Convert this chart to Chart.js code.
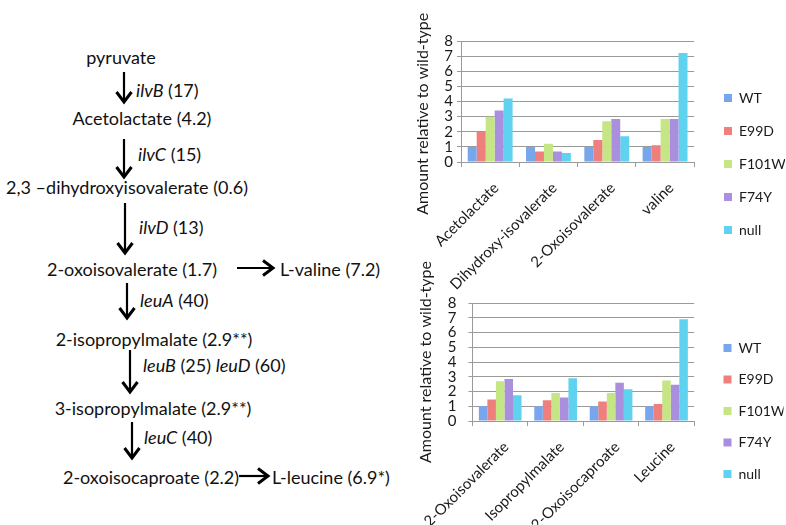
<!DOCTYPE html>
<html>
<head>
<meta charset="utf-8">
<script src="https://cdn.jsdelivr.net/npm/chart.js@4.4.1/dist/chart.umd.min.js"></script>
<style>
  body { margin: 0; background: #fff; }
  #wrap { position: relative; width: 786px; height: 525px; overflow: hidden; font-family: Lato, "Open Sans", sans-serif; color: #111; }
  .t { position: absolute; white-space: nowrap; font-size: 18px; line-height: 1; }
  .c { transform: translate(-50%, -50%); }
  .l { transform: translateY(-50%); }
  #arrows { position: absolute; left: 0; top: 0; }
  #topBox { position: absolute; left: 400px; top: 0; width: 386px; height: 300px; }
  #botBox { position: absolute; left: 400px; top: 250px; width: 386px; height: 275px; }
</style>
</head>
<body>
<div id="wrap">
  <svg id="arrows" width="400" height="525"></svg>
  <div id="pathway"></div>
  <div id="topBox"><canvas id="topChart"></canvas></div>
  <div id="botBox"><canvas id="botChart"></canvas></div>
</div>
<script>
// chart data
const seriesNames = ['WT', 'E99D', 'F101W', 'F74Y', 'null'];
const seriesColors = ['#78a6ec', '#ef7f7c', '#c6e585', '#a98fde', '#5fd2ef'];

const topCategories = ['Acetolactate', 'Dihydroxy-isovalerate', '2-Oxoisovalerate', 'valine'];
const topWT = [1.0, 1.0, 1.0, 1.0];
const topE99D = [2.0, 0.7, 1.45, 1.1];
const topF101W = [3.0, 1.2, 2.7, 2.85];
const topF74Y = [3.4, 0.7, 2.85, 2.85];
const topNull = [4.2, 0.6, 1.7, 7.2];

const botCategories = ['2-Oxoisovalerate', 'Isopropylmalate', '2-Oxoisocaproate', 'Leucine'];
const botWT = [1.0, 1.0, 1.0, 1.0];
const botE99D = [1.45, 1.4, 1.33, 1.15];
const botF101W = [2.7, 1.9, 1.9, 2.75];
const botF74Y = [2.85, 1.6, 2.6, 2.45];
const botNull = [1.75, 2.9, 2.15, 6.9];

const yTicks = [0, 1, 2, 3, 4, 5, 6, 7, 8];
const yTitle = 'Amount relative to wild-type';

// pathway diagram: [text, x, y, anchor]
const pathwayLabels = [
    ['pyruvate', 121, 57, 'c'],
    ['<i>ilvB</i> (17)', 136, 90, 'l'],
    ['Acetolactate (4.2)', 142, 118, 'c'],
    ['<i>ilvC</i> (15)', 138, 154, 'l'],
    ['2,3 \u2013dihydroxyisovalerate (0.6)', 127, 187, 'c'],
    ['<i>ilvD</i> (13)', 139, 227, 'l'],
    ['2-oxoisovalerate (1.7)', 132, 269, 'c'],
    ['L-valine (7.2)', 280, 269, 'l'],
    ['<i>leuA</i> (40)', 140, 300, 'l'],
    ['2-isopropylmalate (2.9**)', 154, 339, 'c'],
    ['<i>leuB</i> (25) <i>leuD</i> (60)', 143, 365, 'l'],
    ['3-isopropylmalate (2.9**)', 153, 408, 'c'],
    ['<i>leuC</i> (40)', 144, 437, 'l'],
    ['2-oxoisocaproate (2.2)', 151, 477, 'c'],
    ['L-leucine (6.9*)', 272, 477, 'l']
];
// arrows: [x1, y1, x2, y2]
const pathwayArrows = [
    [124, 72, 124, 102],
    [124, 139, 124, 177],
    [125, 203, 125, 253],
    [237, 268, 273, 268],
    [127, 283, 127, 318],
    [130, 350, 130, 392],
    [132, 422, 132, 458],
    [239, 476, 268, 476]
];

const pathway = document.getElementById('pathway');
pathwayLabels.forEach(([txt, x, y, a]) => {
    const d = document.createElement('div');
    d.className = 't ' + a;
    d.style.left = x + 'px';
    d.style.top = y + 'px';
    d.innerHTML = txt;
    pathway.appendChild(d);
});

const svg = document.getElementById('arrows');
const ns = 'http://www.w3.org/2000/svg';
pathwayArrows.forEach(([x1, y1, x2, y2]) => {
    const len = Math.hypot(x2 - x1, y2 - y1);
    const ux = (x2 - x1) / len, uy = (y2 - y1) / len;
    const line = document.createElementNS(ns, 'line');
    line.setAttribute('x1', x1); line.setAttribute('y1', y1);
    line.setAttribute('x2', x2 - ux * 1.5); line.setAttribute('y2', y2 - uy * 1.5);
    line.setAttribute('stroke', '#000'); line.setAttribute('stroke-width', '2.2');
    svg.appendChild(line);
    const head = document.createElementNS(ns, 'polyline');
    const hx = x2 - ux * 10, hy = y2 - uy * 10;
    head.setAttribute('points', `${hx - uy * 7.5},${hy + ux * 7.5} ${x2},${y2} ${hx + uy * 7.5},${hy - ux * 7.5}`);
    head.setAttribute('fill', 'none'); head.setAttribute('stroke', '#000');
    head.setAttribute('stroke-width', '3'); head.setAttribute('stroke-linejoin', 'miter');
    svg.appendChild(head);
});

// puts the legend where the original has it (right of the plot, lower half)
const legendPlacer = {
    id: 'legendPlacer',
    afterLayout(chart, args, opts) {
        chart.legend.left = opts.left;
        chart.legend.top = opts.top;
    }
};

const makeChart = (id, labels, values, cfg) => {
    return new Chart(document.getElementById(id), {
        type: 'bar',
        data: {
            labels,
            datasets: values.map((data, i) => ({
                label: seriesNames[i],
                data,
                backgroundColor: seriesColors[i],
                borderWidth: 0,
                categoryPercentage: 0.77,
                barPercentage: 1.0
            }))
        },
        plugins: [legendPlacer],
        options: {
            responsive: false,
            animation: false,
            layout: { padding: { top: cfg.top, left: 9, right: cfg.right, bottom: 0 } },
            plugins: {
                tooltip: { enabled: false },
                legendPlacer: { left: cfg.legendLeft, top: cfg.legendTop },
                legend: {
                    position: 'right',
                    align: 'start',
                    labels: {
                        boxWidth: 8, boxHeight: 8, padding: cfg.legendGap,
                        color: '#1a1a1a',
                        font: { family: 'Lato', size: 14 }
                    }
                }
            },
            scales: {
                x: {
                    afterFit: (scale) => { scale.height = cfg.xHeight; },
                    grid: { offset: true, drawOnChartArea: false, drawTicks: true, tickLength: 5, color: '#9a9a9a' },
                    border: { color: '#9a9a9a' },
                    ticks: { minRotation: 45, maxRotation: 45, autoSkip: false, labelOffset: 6, color: '#1a1a1a', padding: 12, font: { family: 'Lato', size: 15 } }
                },
                y: {
                    min: 0, max: 8,
                    afterFit: (scale) => { scale.width = cfg.yWidth; },
                    afterBuildTicks: (axis) => { axis.ticks = yTicks.map(v => ({ value: v })); },
                    grid: { color: '#9a9a9a', tickLength: 4 },
                    border: { color: '#9a9a9a' },
                    ticks: { autoSkip: false, color: '#1a1a1a', padding: cfg.tickPad, font: { family: 'Lato', size: 15 } },
                    title: { display: true, text: cfg.title, color: '#1a1a1a', padding: 4, font: { family: 'Lato', size: 16 } }
                }
            }
        }
    });
};

const sizeCanvas = (id, w, h) => {
    const c = document.getElementById(id);
    c.width = w; c.height = h;
    c.style.width = w + 'px'; c.style.height = h + 'px';
};
sizeCanvas('topChart', 386, 300);
sizeCanvas('botChart', 386, 275);

// trailing spaces push the top title a little lower, as in the original
makeChart('topChart', topCategories, [topWT, topE99D, topF101W, topF74Y, topNull],
    { top: 41, right: 1, xHeight: 138, yWidth: 52, tickPad: 4, legendLeft: 305, legendTop: 72, legendGap: 19, title: yTitle + '      ' });
makeChart('botChart', botCategories, [botWT, botE99D, botF101W, botF74Y, botNull],
    { top: 53, right: 2.5, xHeight: 104, yWidth: 60, tickPad: 12, legendLeft: 306, legendTop: 73.5, legendGap: 17.5, title: yTitle });
</script>
</body>
</html>
